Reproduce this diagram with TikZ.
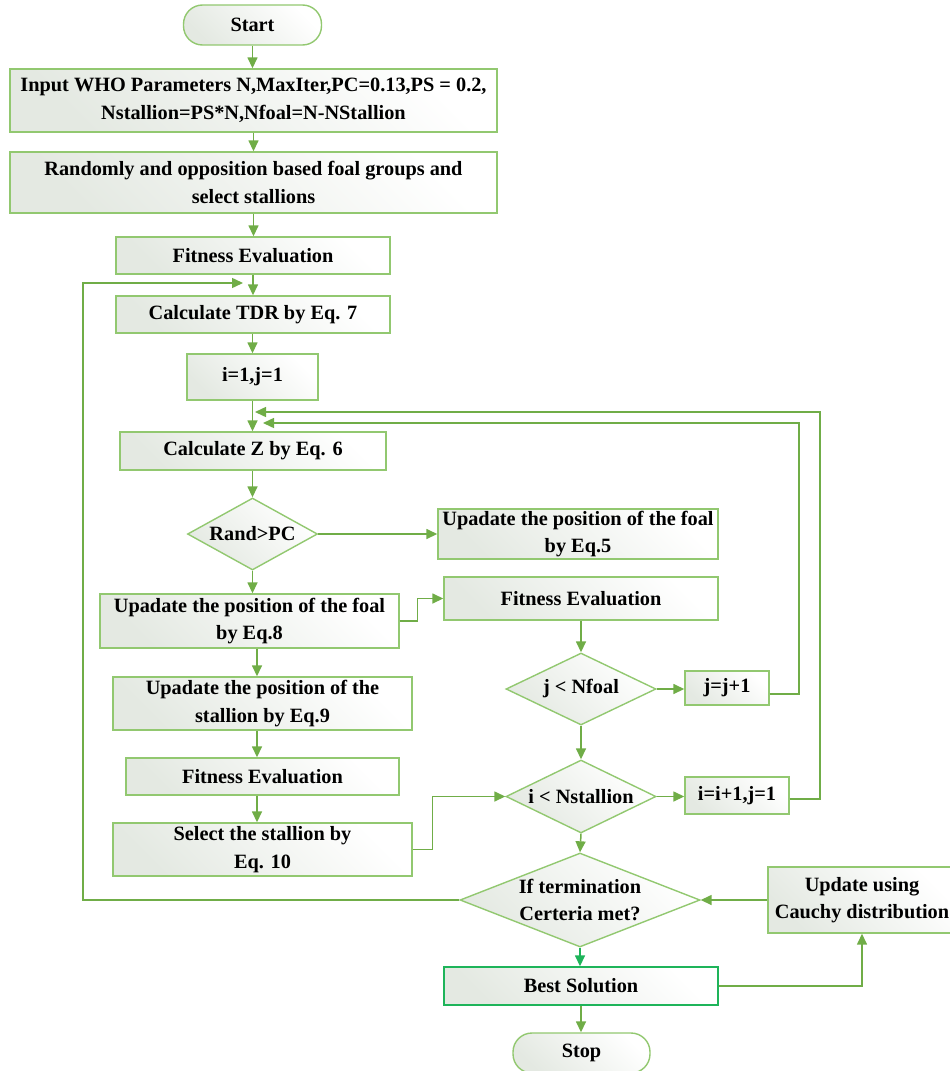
\documentclass[tikz,border=0pt]{standalone}
\usepackage{fontspec}
\setmainfont{Liberation Serif}
\usetikzlibrary{shapes.geometric,arrows.meta,calc}
\definecolor{gline}{RGB}{112,173,71}
\definecolor{gbord}{RGB}{146,200,112}
\definecolor{gshade}{RGB}{228,233,226}
\definecolor{gbest}{RGB}{30,180,90}
\newcommand\ftxt{\bfseries\fontsize{20.3}{27.5}\selectfont}
\tikzset{
  proc/.style={rectangle, draw=gbord, line width=1.4pt, top color=white, bottom color=gshade, shading angle=-45, inner sep=1pt, align=center, font=\ftxt},
  termbox/.style={proc, rounded corners=19pt},
  dec/.style={diamond, draw=gbord, line width=1.4pt, top color=white, bottom color=gshade, shading angle=-45, inner sep=-3pt, align=center, font=\ftxt},
  arr/.style={draw=gline, line width=1.5pt, -{Triangle[length=11pt,width=10pt]}},
}
\begin{document}
\begin{tikzpicture}[x=1pt,y=-1pt]
\useasboundingbox (0,0) rectangle (950,1071);
% left / main column
\node[termbox, minimum width=138pt, minimum height=40pt] (start) at (252.5,25) {Start};
\node[proc, minimum width=487pt, minimum height=63pt] (input) at (253.5,100.5) {Input WHO Parameters N,MaxIter,PC=0.13,PS = 0.2,\\Nstallion=PS*N,Nfoal=N-NStallion};
\node[proc, minimum width=487pt, minimum height=61pt] (rbox) at (253.5,182.5) {Randomly and opposition based foal groups and\\select stallions};
\node[proc, minimum width=274pt, minimum height=37pt] (fit1) at (253,255.5) {Fitness Evaluation};
\node[proc, minimum width=274pt, minimum height=37pt] (tdr) at (253,314.5) {Calculate TDR by Eq. 7};
\node[proc, minimum width=131pt, minimum height=46pt] (init) at (252.5,377) {i=1,j=1};
\node[proc, minimum width=266pt, minimum height=38pt] (calcz) at (253,451) {Calculate Z by Eq. 6};
\node[dec, minimum width=130pt, minimum height=72pt, aspect=1.8] (randpc) at (252.5,534) {Rand>PC};
\node[proc, minimum width=299pt, minimum height=54pt] (eq8) at (249.5,621) {Upadate the position of the foal\\by Eq.8};
\node[proc, minimum width=299pt, minimum height=53pt] (eq9) at (262.5,703.5) {Upadate the position of the\\stallion by Eq.9};
\node[proc, minimum width=273pt, minimum height=37pt] (fit3) at (262.5,776.5) {Fitness Evaluation};
\node[proc, minimum width=299pt, minimum height=53pt] (eq10) at (262.5,849.5) {Select the stallion by\\Eq. 10};
% right column
\node[proc, minimum width=280pt, minimum height=50pt] (eq5) at (578,534) {Upadate the position of the foal\\by Eq.5};
\node[proc, minimum width=274pt, minimum height=43pt] (fit2) at (581,598.5) {Fitness Evaluation};
\node[dec, minimum width=150pt, minimum height=72pt, aspect=2.08] (jn) at (581,689) {j < Nfoal};
\node[proc, minimum width=84pt, minimum height=34pt] (jinc) at (727,688) {j=j+1};
\node[dec, minimum width=150pt, minimum height=73pt, aspect=2.05] (in) at (581,796.5) {i < Nstallion};
\node[proc, minimum width=104pt, minimum height=37pt] (iinc) at (737,795.5) {i=i+1,j=1};
\node[dec, minimum width=240pt, minimum height=94pt, aspect=2.55] (term) at (580,900) {If termination\\Certeria met?};
\node[proc, minimum width=188pt, minimum height=66pt] (cauchy) at (862,900) {Update using\\Cauchy distribution};
\node[proc, draw=gbest, minimum width=274pt, minimum height=38pt] (best) at (581,986) {Best Solution};
\node[termbox, minimum width=137pt, minimum height=40pt] (stop) at (581.5,1053) {Stop};
% helper coordinates
\coordinate (laneB) at (257,0);
\coordinate (loopA) at (83,283);
\coordinate (loopB) at (243,283);
\coordinate (rj) at (799,423);
\coordinate (rjt) at (263,423);
\coordinate (ri) at (820,412);
\coordinate (rit) at (255,412);
% connectors
\draw[arr] (start.south) -- (start.south |- input.north);
\draw[arr] (input.south -| rbox.north) -- (rbox.north);
\draw[arr] (rbox.south) -- (rbox.south |- fit1.north);
\draw[arr] (fit1.south) -- (tdr.north);
\draw[arr] (tdr.south -| init.north) -- (init.north);
\draw[arr] (init.south) -- (init.south |- calcz.north);
\draw[arr] (calcz.south -| randpc.north) -- (randpc.north);
\draw[arr] (randpc.east) -- (randpc.east -| eq5.west);
\draw[arr] (randpc.south) -- (randpc.south |- eq8.north);
\draw[arr] (eq8.south -| laneB) -- (eq9.north -| laneB);
\draw[arr] (eq9.south -| laneB) -- (fit3.north -| laneB);
\draw[arr] (fit3.south -| laneB) -- (eq10.north -| laneB);
\draw[arr] (eq8.east) -- ++(18,0) |- (fit2.west);
\draw[arr] (fit2.south) -- (jn.north);
\draw[arr] (jn.east) -- (jn.east -| jinc.west);
\draw[arr] (jn.south) -- (in.north);
\draw[arr] (in.east) -- (in.east -| iinc.west);
\draw[arr] (eq10.east) -- ++(20,0) |- (in.west);
\draw[arr] ([yshift=-6pt]jinc.east) -| (rj) -- (rjt);
\draw[arr] ([yshift=-3.5pt]iinc.east) -| (ri) -- (rit);
\draw[arr] (in.south) -- (term.north);
\draw[arr, draw=gbest] (term.south) -- (term.south |- best.north);
\draw[arr] (best.south) -- (best.south |- stop.north);
\draw[arr] (best.east) -| (cauchy.south);
\draw[arr] (cauchy.west) -- (term.east);
\draw[arr] (term.west) -| (loopA) -- (loopB);
\end{tikzpicture}
\end{document}
